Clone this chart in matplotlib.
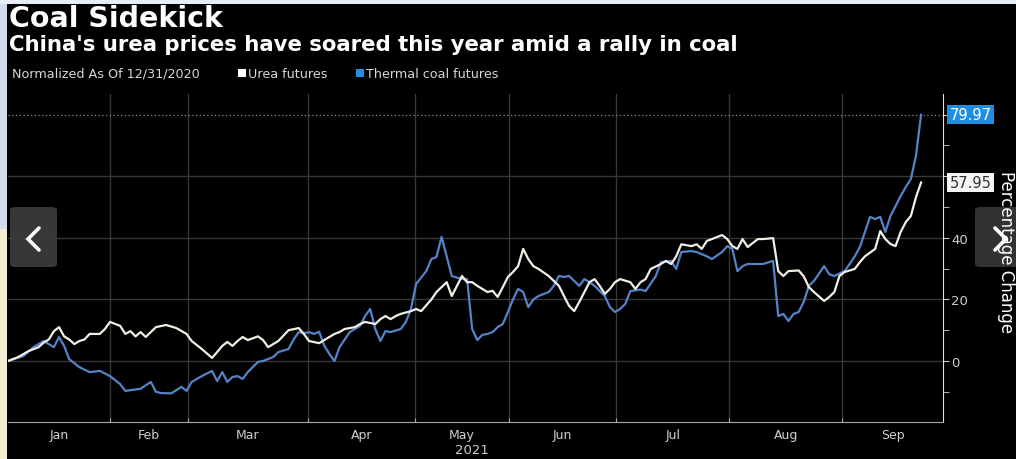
import matplotlib
matplotlib.use('Agg')
import matplotlib.pyplot as plt
import matplotlib.transforms as mtransforms
from matplotlib.patches import Rectangle, FancyBboxPatch
from matplotlib.lines import Line2D

# trading-day index since 12/31/2020, percent change
urea_day = [0, 2, 4, 6, 7, 8, 9, 10, 11, 12, 13, 14, 15, 16, 18, 19, 20, 22, 23, 24,
            25, 26, 27, 29, 31, 33, 35, 36, 38, 40, 41, 42, 43, 44, 45, 46, 47, 49, 50, 51,
            53, 55, 57, 58, 59, 61, 62, 64, 65, 66, 68, 69, 70, 72, 73, 74, 75, 76, 77, 79,
            80, 81, 83, 84, 86, 87, 89, 90, 91, 92, 94, 95, 96, 97, 98, 99, 100, 101, 102, 103,
            104, 106, 107, 108, 109, 110, 111, 112, 113, 114, 115, 116, 117, 118, 119, 120, 122, 123, 124, 125,
            126, 128, 129, 130, 131, 132, 134, 135, 136, 137, 138, 140, 141, 142, 143, 144, 145, 147, 148, 150,
            151, 152, 153, 155, 156, 157, 158, 160, 161, 162, 163, 164, 166, 167, 168, 170, 171, 172, 173, 174,
            175, 176, 177, 178, 179]
urea_pct = [0, 1.3, 3.2, 4.5, 6, 7, 9.7, 11, 8, 7, 5.5, 6.5, 7, 8.8, 8.8, 10.4, 12.7, 11.4, 8.8, 9.7,
            8, 9.4, 7.8, 11, 11.7, 10.7, 8.8, 6.5, 3.9, 1, 2.9, 4.9, 6.2, 4.9, 6.5, 7.8, 6.8, 8, 6.8, 4.5,
            6.5, 10, 10.7, 8.8, 6.5, 5.8, 6.8, 8.8, 9.4, 10.4, 11, 12, 12.7, 12, 13.6, 14.6, 13.6, 14.6, 15.3, 16.2,
            16.9, 16.2, 20, 22.4, 25.6, 21.1, 27.6, 25.6, 25.6, 24.4, 22.4, 22.8, 20.8, 24, 27.3, 28.9, 30.8, 36.4, 33.1, 30.8,
            29.9, 27.6, 26, 24.4, 21.1, 17.9, 16.2, 19.2, 22.4, 25.6, 26.6, 24.4, 21.8, 23.4, 25.6, 26.6, 25.6, 23.4, 25.6, 26.6,
            29.9, 31.5, 32.5, 31.5, 34, 37.9, 37.3, 37.9, 36.4, 39, 39.6, 40.9, 39.6, 37.3, 36.4, 39.6, 37, 39.6, 39.6, 39.9,
            29.2, 27.6, 29.2, 29.4, 27.5, 24, 22.4, 19.5, 20.8, 22.4, 27.6, 28.9, 29.9, 32.1, 34, 36.4, 42.2, 39.6, 38, 37.3,
            41.9, 45.1, 47.1, 53.2, 57.95]

coal_day = [0, 3, 5, 7, 8, 9, 10, 11, 12, 14, 16, 18, 20, 22, 23, 26, 28, 29, 30, 32,
            34, 35, 36, 38, 40, 41, 42, 43, 44, 45, 46, 47, 49, 50, 52, 53, 55, 56, 57, 58,
            59, 60, 61, 62, 63, 64, 65, 67, 69, 70, 71, 72, 73, 74, 75, 77, 78, 79, 80, 82,
            83, 84, 85, 86, 87, 89, 90, 91, 92, 93, 94, 95, 96, 97, 98, 99, 100, 101, 102, 103,
            104, 106, 107, 108, 109, 110, 112, 113, 114, 115, 117, 118, 119, 120, 121, 122, 124, 125, 127, 128,
            130, 131, 132, 134, 135, 137, 138, 140, 141, 142, 143, 144, 145, 147, 148, 150, 151, 152, 153, 154,
            155, 156, 157, 158, 160, 161, 162, 164, 165, 166, 167, 168, 169, 170, 171, 172, 173, 174, 175, 176,
            177, 178, 179]
coal_pct = [0, 1.6, 4.5, 6.5, 5.5, 4.5, 7.8, 4.9, 0.6, -2, -3.6, -3.2, -4.9, -7.5, -9.7, -9, -6.8, -10, -10.4, -10.5,
            -8.4, -9.7, -6.8, -4.9, -3.2, -6.5, -3.6, -6.8, -5.2, -4.9, -5.8, -3.6, -0.3, 0, 1.3, 2.9, 3.9, 7, 9.4, 9,
            9.4, 8.8, 9.5, 5, 2.3, 0, 4.5, 9.4, 11.4, 14.6, 16.9, 10.4, 6.5, 9.7, 9.4, 10.4, 12.7, 16.9, 25, 29.2,
            33.1, 33.8, 40.3, 34, 27.6, 26.6, 26.6, 10.4, 6.8, 8.5, 8.8, 9.4, 11, 12, 15.9, 20, 23.4, 22.4, 17.5, 20,
            21.1, 22.4, 24.4, 27.6, 27.3, 27.6, 24.4, 26.6, 25.6, 24.4, 21.1, 17.5, 15.9, 16.9, 18.5, 22.7, 23.2, 22.7, 27.6, 32.1,
            32.5, 29.9, 35.4, 35.7, 35.4, 34, 33.1, 35.4, 37.3, 36.4, 29.2, 30.8, 31.5, 31.5, 31.5, 32.5, 14.6, 15.3, 13, 15.3,
            15.9, 19.2, 24.4, 26, 30.8, 28.2, 27.6, 29.2, 31.5, 34, 37, 41.9, 46.8, 46.1, 46.8, 41.9, 47.1, 50.3, 53.6, 56.5,
            59.1, 66.6, 79.97]

months = ['Jan', 'Feb', 'Mar', 'Apr', 'May', 'Jun', 'Jul', 'Aug', 'Sep']
month_start = [0, 20, 35.3, 58.8, 79.8, 98.2, 119.2, 141.4, 163.5]
x_end = 183.3
y_ticks = [0, 20, 40, 60, 80]
y_labels = ['0', '20', '40', '', '']

W, H = 1016, 460
def fx(px):
    return px / W
def fy(py):
    return 1 - py / H

fig = plt.figure(figsize=(W / 100, H / 100), dpi=100)
fig.patch.set_facecolor('black')

# screenshot border
fig.add_artist(Rectangle((0, fy(230)), fx(7), 230 / H, transform=fig.transFigure, fc='#d3dcea', ec='none'))
fig.add_artist(Rectangle((0, 0), fx(7), 230 / H, transform=fig.transFigure, fc='#f3ecd3', ec='none'))
fig.add_artist(Rectangle((0, fy(5)), 1, 5 / H, transform=fig.transFigure, fc='#e8edf3', ec='none'))

ax = fig.add_axes([fx(8), fy(423), (943 - 8) / W, (423 - 95) / H])
ax.set_facecolor('black')
ax.set_xlim(0, x_end)
ax.set_ylim(-19.8, 86.7)

for d in month_start[1:]:
    ax.axvline(d, color='#383838', lw=1, zorder=1)
for v in y_ticks[:-1]:
    ax.axhline(v, color='#383838', lw=1, zorder=1)
ax.axhline(coal_pct[-1], color='#8c8c8c', lw=0.9, ls=(0, (1, 2)), zorder=1)

ax.plot(coal_day, coal_pct, color='#5584c6', lw=1.6, zorder=3)
ax.plot(urea_day, urea_pct, color='#f1eee4', lw=1.6, zorder=4)

for s in ['left', 'top']:
    ax.spines[s].set_visible(False)
ax.spines['right'].set_color('#e0e0e0')
ax.spines['bottom'].set_color('#a8a8a8')

ax.set_xticks(month_start[1:])
ax.set_xticklabels([])
mids = [(a + b) / 2 for a, b in zip(month_start, month_start[1:] + [x_end])]
ax.set_xticks(mids, minor=True)
ax.set_xticklabels(months, minor=True)
ax.tick_params(axis='x', which='major', direction='in', length=3, color='#a8a8a8')
ax.tick_params(axis='x', which='minor', length=0, labelsize=9, labelcolor='#cfcfcf', pad=4)

ax.yaxis.tick_right()
ax.set_yticks(y_ticks)
ax.set_yticklabels(y_labels)
ax.set_yticks([-10, 10, 30, 50, 70], minor=True)
ax.tick_params(axis='y', which='both', direction='out', color='#d0d0d0', length=4,
               labelsize=9.5, labelcolor='#cfcfcf', pad=2)

tr = mtransforms.blended_transform_factory(ax.transAxes, ax.transData)
ax.text(1.007, coal_pct[-1], '%.2f' % coal_pct[-1], transform=tr, ha='left', va='center',
        fontsize=10.5, color='white', zorder=6, clip_on=False,
        bbox=dict(boxstyle='square,pad=0.15', fc='#1f8ee0', ec='none'))
ax.text(1.007, urea_pct[-1], '%.2f' % urea_pct[-1], transform=tr, ha='left', va='center',
        fontsize=10.5, color='#333333', zorder=6, clip_on=False,
        bbox=dict(boxstyle='square,pad=0.15', fc='#f4f4f4', ec='none'))

fig.text(fx(9), fy(19), 'Coal Sidekick', fontsize=20.5, weight='bold', color='white', va='center')
fig.text(fx(9), fy(45), "China's urea prices have soared this year amid a rally in coal",
         fontsize=15.3, weight='bold', color='white', va='center')
fig.text(fx(12), fy(74), 'Normalized As Of 12/31/2020', fontsize=9.2, color='#d6d6d6', va='center')
fig.add_artist(Rectangle((fx(238), fy(78)), 8 / W, 8 / H, transform=fig.transFigure, fc='white', ec='none'))
fig.add_artist(Rectangle((fx(356), fy(78)), 8 / W, 8 / H, transform=fig.transFigure, fc='#2a8ee0', ec='none'))
fig.text(fx(248), fy(74), 'Urea futures', fontsize=9.2, color='#d6d6d6', va='center')
fig.text(fx(366), fy(74), 'Thermal coal futures', fontsize=9.2, color='#d6d6d6', va='center')

fig.text(fx(472), fy(451), '2021', fontsize=9.5, color='#cfcfcf', ha='center', va='center')
fig.text(fx(1006), fy(252), 'Percentage Change', fontsize=12, color='white', rotation=270,
         ha='center', va='center')

# slideshow arrows over the picture
fig.add_artist(FancyBboxPatch((fx(10), fy(268)), 47 / W, 60 / H, transform=fig.transFigure,
                              boxstyle='round,pad=0,rounding_size=0.006', fc='#3b3b3b', ec='none', alpha=0.95))
fig.add_artist(FancyBboxPatch((fx(975), fy(268)), 50 / W, 60 / H, transform=fig.transFigure,
                              boxstyle='round,pad=0,rounding_size=0.006', fc='#3b3b3b', ec='none', alpha=0.85))
fig.add_artist(Line2D([fx(39), fx(28), fx(39)], [fy(229), fy(240), fy(251)], transform=fig.transFigure,
                      color='white', lw=2.6, solid_capstyle='round', solid_joinstyle='miter'))
fig.add_artist(Line2D([fx(995), fx(1006), fx(995)], [fy(229), fy(240), fy(251)], transform=fig.transFigure,
                      color='white', lw=2.6, solid_capstyle='round', solid_joinstyle='miter'))

plt.savefig('out.png', dpi=100, facecolor=fig.get_facecolor())
